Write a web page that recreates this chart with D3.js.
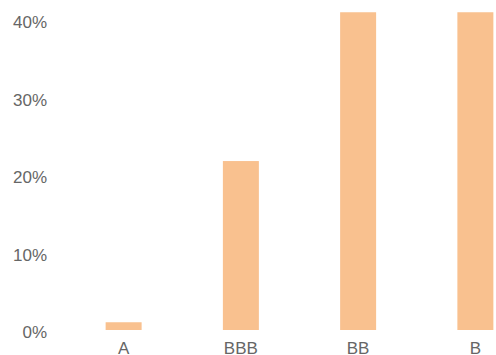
<!DOCTYPE html>
<html><head><meta charset="utf-8">
<script src="https://cdn.jsdelivr.net/npm/d3@7"></script>
<style>html,body{margin:0;padding:0;background:#fff;overflow:hidden}</style>
</head><body>
<svg id="c" width="496" height="355"></svg>
<script>
const categories = ["A", "BBB", "BB", "B"];
const values = [1, 21.8, 41, 41];
const yTicks = [0, 10, 20, 30, 40];

const svg = d3.select("#c");
const x = d3.scaleBand().domain(categories).range([65, 534]).paddingInner(0.693).paddingOuter(0.3465);
const y = d3.scaleLinear().domain([0, 40]).range([330, 20]);

svg.append("g").selectAll("rect").data(values).join("rect")
  .attr("x", (d, i) => x(categories[i]))
  .attr("width", x.bandwidth())
  .attr("y", d => y(d))
  .attr("height", d => y(0) - y(d))
  .attr("fill", "#f9c18f");

const yAxis = d3.axisLeft(y).tickValues(yTicks).tickFormat(d => d + "%").tickSize(0).tickPadding(0);
const gy = svg.append("g").attr("transform", "translate(47,2.5)").call(yAxis);
gy.select(".domain").remove();
gy.selectAll("text").attr("font-family", "Liberation Sans, Arial, sans-serif").attr("font-size", 17).attr("fill", "#666");

const xAxis = d3.axisBottom(x).tickSize(0).tickPadding(0);
const gx = svg.append("g").attr("transform", "translate(0,342.4)").call(xAxis);
gx.select(".domain").remove();
gx.selectAll("text").attr("font-family", "Liberation Sans, Arial, sans-serif").attr("font-size", 17).attr("fill", "#666").attr("dy", "0.71em");
</script>
</body></html>
